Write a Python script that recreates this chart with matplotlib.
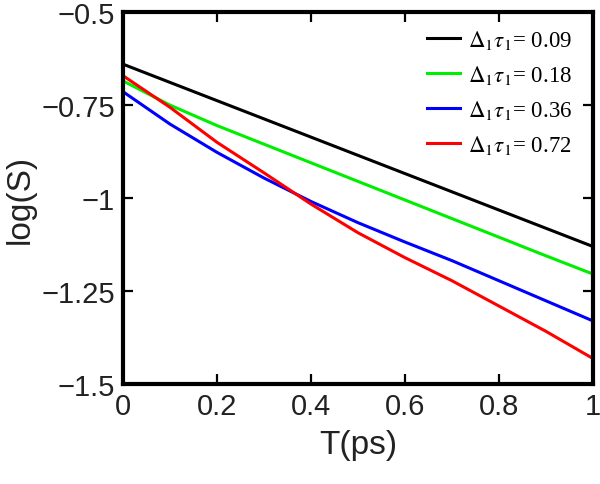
import matplotlib
matplotlib.use("Agg")
import matplotlib.pyplot as plt

T = [0.0, 0.1, 0.2, 0.3, 0.4, 0.5, 0.6, 0.7, 0.8, 0.9, 1.0]
s_009 = [-0.640, -0.689, -0.738, -0.787, -0.836, -0.885, -0.934, -0.983, -1.032, -1.081, -1.130]
s_018 = [-0.685, -0.750, -0.805, -0.855, -0.905, -0.955, -1.005, -1.055, -1.105, -1.155, -1.204]
s_036 = [-0.714, -0.801, -0.877, -0.946, -1.009, -1.066, -1.118, -1.168, -1.222, -1.276, -1.330]
s_072 = [-0.671, -0.756, -0.850, -0.932, -1.016, -1.093, -1.160, -1.222, -1.290, -1.358, -1.431]
series = [s_009, s_018, s_036, s_072]
labels = ["0.09", "0.18", "0.36", "0.72"]
colors = ["#000000", "#00ee00", "#0000ff", "#ff0000"]
xticks = [0, 0.2, 0.4, 0.6, 0.8, 1]
xticklabels = ["0", "0.2", "0.4", "0.6", "0.8", "1"]
yticks = [-1.5, -1.25, -1.0, -0.75, -0.5]
yticklabels = ["\u22121.5", "\u22121.25", "\u22121", "\u22120.75", "\u22120.5"]

plt.rcParams["font.family"] = ["Liberation Sans", "DejaVu Sans"]
plt.rcParams["mathtext.fontset"] = "stix"

fig = plt.figure(figsize=(6.0, 4.85), dpi=100)
ax = fig.add_axes([0.205, 0.206, 0.783, 0.767])

for ys, lab, c in zip(series, labels, colors):
    ax.plot(T, ys, color=c, lw=2.2, label=r"$\Delta_1\tau_1$= " + lab)

ax.set_xlim(0, 1)
ax.set_ylim(-1.5, -0.5)
ax.set_xticks(xticks)
ax.set_xticklabels(xticklabels)
ax.set_yticks(yticks)
ax.set_yticklabels(yticklabels)
ax.tick_params(direction="in", length=7, width=1.6, labelsize=21,
               top=True, right=True, pad=6, colors="black")
ax.tick_params(axis="both", labelcolor="#222222")
for sp in ax.spines.values():
    sp.set_linewidth(3.0)
ax.set_xlabel("T(ps)", fontsize=24, color="#222222", labelpad=6)
ax.set_ylabel("log(S)", fontsize=24, color="#222222", labelpad=4)

leg = ax.legend(loc="upper right", frameon=False,
                prop={"family": "Liberation Serif", "size": 16.5},
                handlelength=1.45, handletextpad=0.35, labelspacing=0.52,
                borderaxespad=0.3, bbox_to_anchor=(0.99, 1.0))

fig.savefig("out.png", dpi=100)
